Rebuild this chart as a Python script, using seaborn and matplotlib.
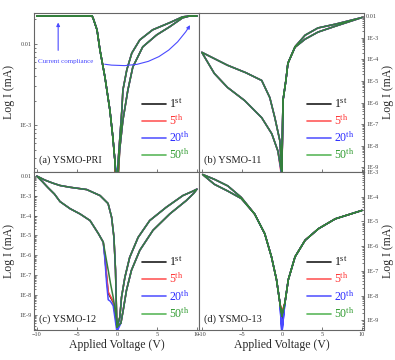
import numpy as np
import pandas as pd
import seaborn as sns
import matplotlib as mpl
import matplotlib.pyplot as plt
from matplotlib.lines import Line2D
from matplotlib.ticker import FuncFormatter, NullFormatter, LogLocator

sns.set_theme(style="ticks")
mpl.rc('font', family=['Liberation Serif', 'DejaVu Serif'])
mpl.rc('mathtext', fontset='custom', rm='Liberation Serif', it='Liberation Serif:italic',
       bf='Liberation Serif:bold')

cycles = ['1st', '5th', '20th', '50th']
legend_labels = [r'1$^{\rm st}$', r'5$^{\rm th}$', r'20$^{\rm th}$', r'50$^{\rm th}$']
line_colors = ['#1c1c1c', '#ff4a4a', '#4a4aff', '#347f3c']   # curves (green overlays the rest)
handle_colors = ['#1c1c1c', '#ff5a5a', '#5a5aff', '#5cb85c']  # legend samples
text_colors = ['#111111', '#ff3030', '#2a2aff', '#2e9a2e']

# ---- (a) YSMO-PRI ----
a_dip = [1e-4, 1.2e-4, 2e-4, 1.5e-4]
a_start = [-5.5, -5.5, -5.5, -10]
a_pos_lo_v = [0.35, 0.75, 1.37, 1.99, 3.23, 4.97, 6.58, 8.2, 9.07, 10]
a_pos_lo_i = [5e-4, 1.15e-3, 2.7e-3, 5.2e-3, 9.2e-3, 0.0129, 0.0162, 0.0209, 0.022, 0.022]
a_pos_hi_v = [0.12, 0.62, 0.75, 1.24, 1.86, 2.86, 4.47, 6.58, 8.2, 9.07, 10]
a_pos_hi_i = [3.2e-4, 1.53e-3, 2.7e-3, 4.8e-3, 7.7e-3, 0.0112, 0.0149, 0.0182, 0.0215, 0.022, 0.022]
a_neg_v = [-0.25, -0.5, -0.87, -1.49, -2.11, -2.48, -2.98, -3.1, -4, -5.5, -6, -8, -10]
a_neg_i = [3.7e-4, 7.1e-4, 1.53e-3, 3.9e-3, 8.4e-3, 0.0149, 0.0209, 0.022, 0.022, 0.022, 0.022, 0.022, 0.022]

# ---- (b) YSMO-11 ----
b_dip = [5e-10, 3e-10, 4e-10, 5e-10]
b_pos_lo_v = [0.13, 0.5, 0.75, 1.64, 2.9, 4.5, 6.7, 10]
b_pos_lo_i = [1.2e-6, 1.05e-5, 6.5e-5, 3.6e-4, 8.5e-4, 1.8e-3, 3.4e-3, 8.5e-3]
b_pos_hi_v = [0.13, 0.5, 0.75, 1.64, 2.9, 4.5, 6.7, 10]
b_pos_hi_i = [1.2e-6, 1.05e-5, 6.5e-5, 3.8e-4, 1.3e-3, 2.8e-3, 4.2e-3, 8.5e-3]
b_neg_hi_v = [-0.25, -0.88, -1.51, -2.52, -4.5, -6.79, -10]
b_neg_hi_i = [1.7e-8, 2.0e-7, 1.7e-6, 1.05e-5, 2.4e-5, 5.3e-5, 2.1e-4]
b_neg_lo_v = [-0.5, -1.26, -2.52, -4.65, -6.79, -8.43, -10]
b_neg_lo_i = [5.8e-9, 3.6e-8, 2.0e-7, 1.24e-6, 5.0e-6, 2.2e-5, 2.1e-4]

# ---- (c) YSMO-12 ----
c_dip = [2.6e-10, 3e-10, 1.5e-10, 2.5e-10]
c_pos_lo_v = [0.5, 0.79, 1.2, 1.82, 2.86, 4.5, 6.6, 8.66, 9.6, 10]
c_pos_lo_i = [4e-10, 1.8e-9, 1.8e-8, 1.8e-7, 1.8e-6, 1.8e-5, 1.2e-4, 5.6e-4, 1.3e-3, 2.1e-3]
c_pos_hi_v = [0.37, 0.58, 1.0, 1.6, 2.65, 4.1, 6.17, 8.24, 9.4, 10]
c_pos_hi_i = [8e-10, 8e-9, 8e-8, 8e-7, 8e-6, 5.6e-5, 2.6e-4, 1e-3, 1.6e-3, 2.1e-3]
c_neg_hi_v = [-0.17, -0.37, -0.66, -1.1, -2.1, -3.77, -5.84, -7.1, -8, -9, -10]
c_neg_hi_i = [1.8e-7, 8.3e-6, 8.3e-5, 4e-4, 1e-3, 2e-3, 2.6e-3, 3.2e-3, 4.2e-3, 6e-3, 9.5e-3]
c_tail_v = [-0.04, -0.46, -0.8, -1.08, -1.28, -1.49]
c_tail_i = [[3.8e-10, 4.6e-9, 8e-9, 1.26e-8, 8.3e-8, 8.3e-7],
            [5e-10, 5e-9, 9e-9, 1.5e-8, 1e-7, 9e-7],
            [2e-10, 3e-9, 5e-9, 6e-9, 4e-8, 6e-7],
            [6e-10, 8e-9, 4e-8, 1.8e-7, 5e-7, 1.5e-6]]
c_neg_lo_v = [-1.7, -2.32, -3.35, -4.6, -5.84, -7.1, -7.8, -8.6, -9.3, -10]
c_neg_lo_i = [4.6e-6, 1.26e-5, 5.6e-5, 1.2e-4, 2.2e-4, 5e-4, 1.2e-3, 2.5e-3, 5e-3, 9.5e-3]

# ---- (d) YSMO-13 ----
d_dip = [1e-9, 2e-9, 3e-10, 1.5e-9]
d_pos_v = [0.38, 0.8, 1.64, 2.9, 4.57, 6.67, 10]
d_pos_i = [5.1e-9, 4.4e-8, 3.7e-7, 1.74e-6, 5.1e-6, 1.28e-5, 2.8e-5]
d_neg_hi_v = [-0.25, -0.67, -1.3, -2.14, -3.4, -5.07, -6.75, -8.43, -9.9]
d_neg_hi_i = [5.1e-9, 4.4e-8, 3.7e-7, 3.2e-6, 2e-5, 9.4e-5, 2.75e-4, 5.1e-4, 8e-4]
d_neg_lo_v = [-0.25, -0.67, -1.3, -2.14, -3.4, -5.07, -6.75, -8.43, -9.9]
d_neg_lo_i = [5.1e-9, 4.4e-8, 3.7e-7, 3.2e-6, 2e-5, 8.5e-5, 1.7e-4, 3.2e-4, 8e-4]


def sweep(dip, pos_out, pos_back, neg_out, neg_back):
    # 0 -> +10 -> 0 -> -10 -> 0
    v = [0] + pos_out[0] + pos_back[0][::-1] + [0] + neg_out[0] + neg_back[0][::-1] + [0]
    i = [dip] + pos_out[1] + pos_back[1][::-1] + [dip] + neg_out[1] + neg_back[1][::-1] + [dip]
    return v, i


def frame(loops):
    rows = []
    for k, (v, i) in enumerate(loops):
        rows.append(pd.DataFrame({'V': v, 'I': i, 'cycle': cycles[k], 'step': range(len(v))}))
    return pd.concat(rows, ignore_index=True)


loops_a = []
for k in range(4):
    v, i = sweep(a_dip[k], (a_pos_lo_v, a_pos_lo_i), (a_pos_hi_v, a_pos_hi_i),
                 (a_neg_v, a_neg_i), (a_neg_v, a_neg_i))
    keep = [n for n in range(len(v)) if v[n] >= a_start[k]]
    loops_a.append(([v[n] for n in keep], [i[n] for n in keep]))
df_a = frame(loops_a)

df_b = frame([sweep(b_dip[k], (b_pos_lo_v, b_pos_lo_i), (b_pos_hi_v, b_pos_hi_i),
                    (b_neg_hi_v, b_neg_hi_i), (b_neg_lo_v, b_neg_lo_i)) for k in range(4)])

df_c = frame([sweep(c_dip[k], (c_pos_lo_v, c_pos_lo_i), (c_pos_hi_v, c_pos_hi_i),
                    (c_neg_hi_v, c_neg_hi_i),
                    (c_tail_v + c_neg_lo_v, c_tail_i[k] + c_neg_lo_i)) for k in range(4)])

df_d = frame([sweep(d_dip[k], (d_pos_v, d_pos_i), (d_pos_v, d_pos_i),
                    (d_neg_hi_v, d_neg_hi_i), (d_neg_lo_v, d_neg_lo_i)) for k in range(4)])


def log_label(y, pos):
    e = int(round(np.log10(y)))
    if e == -2:
        return '0.01'
    return '1E%d' % e


def draw(ax, df, ylim, name, right=False, bottom=False):
    sns.lineplot(data=df, x='V', y='I', hue='cycle', hue_order=cycles, palette=line_colors,
                 sort=False, estimator=None, lw=1.1, ax=ax, legend=False)
    ax.set_yscale('log')
    ax.set_xlim(-10.35, 10.25)
    ax.set_ylim(*ylim)
    ax.set_xticks([-10, -5, 0, 5, 10])
    ax.yaxis.set_major_locator(LogLocator(base=10, numticks=20))
    ax.yaxis.set_major_formatter(FuncFormatter(log_label))
    ax.yaxis.set_minor_formatter(NullFormatter())
    ax.tick_params(which='both', direction='in', labelsize=4.5, colors='#444444', width=0.5)
    ax.tick_params(which='major', length=2.5, pad=1.5)
    ax.tick_params(which='minor', length=1.3)
    for s in ax.spines.values():
        s.set_color('#666666')
        s.set_linewidth(0.8)
    if right:
        ax.yaxis.tick_right()
        ax.yaxis.set_label_position('right')
    ax.set_ylabel('Log I (mA)', fontsize=8.5, color='#2a2a2a', labelpad=3)
    if bottom:
        ax.set_xlabel('Applied Voltage (V)', fontsize=8.5, color='#2a2a2a', labelpad=1)
    else:
        ax.set_xlabel('')
        ax.tick_params(axis='x', labelbottom=False)
    ax.text(0.03, 0.055, name, transform=ax.transAxes, fontsize=7.5, color='#222222')
    handles = [Line2D([], [], color=c, lw=1.2) for c in handle_colors]
    ax.legend(handles, legend_labels, loc='lower right', bbox_to_anchor=(1.0, 0.0),
              frameon=False, fontsize=8.5, handlelength=2.0, handletextpad=0.3,
              labelspacing=0.22, borderaxespad=0.4, labelcolor=text_colors)


fig = plt.figure(figsize=(3.95, 3.6), dpi=100)
axes = fig.subplots(2, 2)
fig.subplots_adjust(left=0.086, right=0.9215, top=0.964, bottom=0.083, wspace=0, hspace=0)

draw(axes[0, 0], df_a, (2.7e-4, 0.024), '(a) YSMO-PRI')
draw(axes[0, 1], df_b, (6.5e-10, 0.0138), '(b) YSMO-11', right=True)
draw(axes[1, 0], df_c, (1.8e-10, 0.016), '(c) YSMO-12', bottom=True)
draw(axes[1, 1], df_d, (4e-10, 1.05e-3), '(d) YSMO-13', right=True, bottom=True)

# current compliance annotation
ax = axes[0, 0]
blue = '#4a4aff'
ax.text(-9.8, 6.0e-3, 'Current compliance', color=blue, fontsize=5, va='center')
ax.annotate('', xy=(-7.33, 0.0198), xytext=(-7.33, 7.7e-3),
            arrowprops=dict(arrowstyle='-|>', color=blue, lw=0.8, mutation_scale=5))
ax.annotate('', xy=(9.32, 0.0182), xytext=(-1.86, 5.7e-3),
            arrowprops=dict(arrowstyle='-|>', color=blue, lw=0.8, mutation_scale=5,
                            connectionstyle='arc3,rad=0.35'))

fig.savefig('out.png', dpi=100)
